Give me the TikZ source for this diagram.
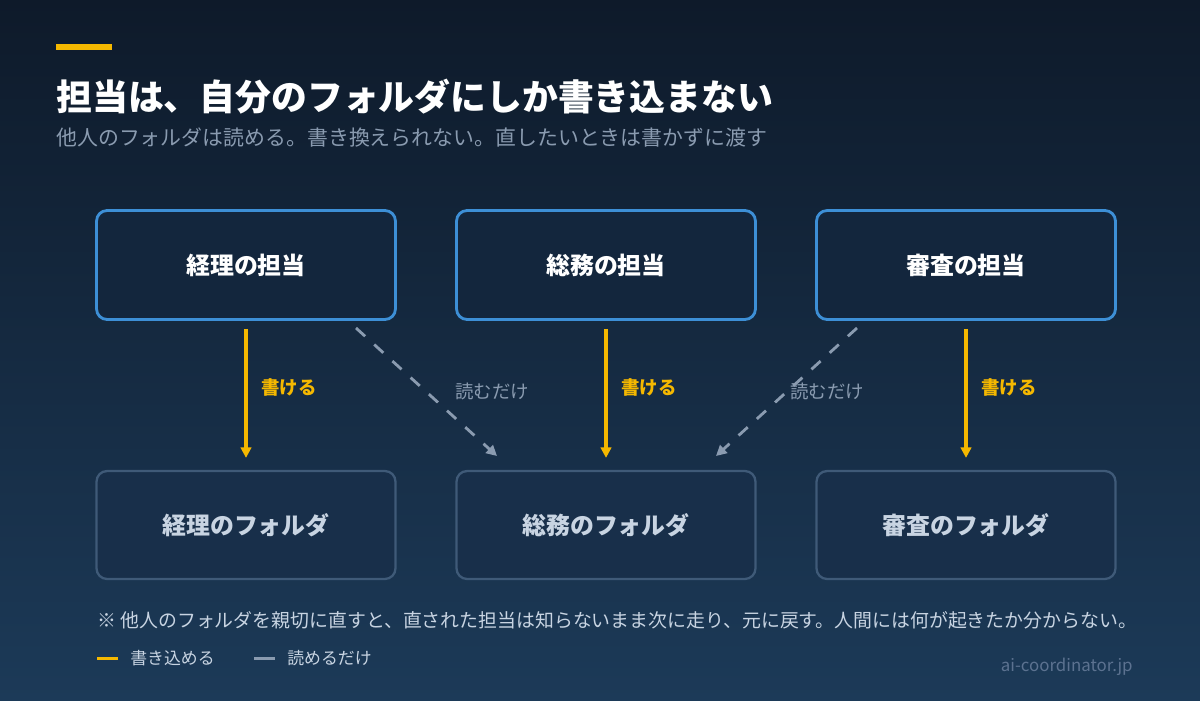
\documentclass[tikz,border=0pt]{standalone}
\usepackage{fontspec}
\setmainfont{Noto Sans CJK JP}
\usetikzlibrary{arrows.meta}
\definecolor{bgtop}{HTML}{0E1A2A}
\definecolor{bgbot}{HTML}{1C3A58}
\definecolor{accent}{HTML}{F5B800}
\definecolor{boxblue}{HTML}{3D8FD6}
\definecolor{boxdim}{HTML}{3F5A78}
\definecolor{boxfill}{HTML}{13263D}
\definecolor{boxfillb}{HTML}{182F4A}
\definecolor{subgray}{HTML}{8A9BB0}
\definecolor{textlite}{HTML}{C8D4E2}
\definecolor{sitegray}{HTML}{5C7290}
\tikzset{
	owner/.style={draw=boxblue, line width=1.6pt, fill=boxfill, rounded corners=6pt,
		minimum width=299\pxu, minimum height=109\pxu, text=white, font=\fontsize{13.6}{16}\selectfont\bfseries},
	folder/.style={draw=boxdim, line width=1.3pt, fill=boxfillb, rounded corners=6pt,
		minimum width=299\pxu, minimum height=108\pxu, text=textlite, font=\fontsize{13.6}{16}\selectfont\bfseries},
	write/.style={draw=accent, line width=2pt, -{Triangle[length=6pt,width=6pt]}},
	read/.style={draw=subgray, line width=1.6pt, dash pattern=on 7pt off 7pt, -{Triangle[length=6pt,width=6pt]}},
	wlabel/.style={text=accent, font=\fontsize{10.5}{12}\selectfont\bfseries, anchor=west},
	rlabel/.style={text=subgray, font=\fontsize{10.5}{12}\selectfont, anchor=west},
}
\def\pxu{mm*0.2}
\begin{document}
\begin{tikzpicture}[x=0.02cm, y=-0.02cm]
	\shade[top color=bgtop, bottom color=bgbot] (0,0) rectangle (1200,700);
	\useasboundingbox (0,0) rectangle (1200,700);
	% heading
	\fill[accent] (56,44) rectangle (112,50);
	\node[anchor=base west, inner sep=0, text=white, font=\fontsize{20.4}{24}\selectfont\bfseries] (title) at (56,110)
		{担当は、自分のフォルダにしか書き込まない};
	\node[anchor=base west, inner sep=0, text=subgray, font=\fontsize{11.9}{14}\selectfont] (subtitle) at (56,145)
		{他人のフォルダは読める。書き換えられない。直したいときは書かずに渡す};
	% owners and folders
	\node[owner] (ownacc) at (246,265) {経理の担当};
	\node[owner] (owngen) at (606,265) {総務の担当};
	\node[owner] (ownaud) at (966,265) {審査の担当};
	\node[folder] (fldacc) at (246,525) {経理のフォルダ};
	\node[folder] (fldgen) at (606,525) {総務のフォルダ};
	\node[folder] (fldaud) at (966,525) {審査のフォルダ};
	% write access
	\foreach \o/\f in {ownacc/fldacc, owngen/fldgen, ownaud/fldaud}{%
		\draw[write] ([yshift=-8\pxu]\o.south) -- ([yshift=12\pxu]\f.north);
		\node[wlabel] at ([xshift=9\pxu, yshift=-67\pxu]\o.south) {書ける};
	}
	% read access
	\coordinate (rda) at (356,328);
	\coordinate (rdb) at (497,456);
	\coordinate (rdc) at (857,328);
	\coordinate (rdd) at (716,456);
	\draw[read] (rda) -- (rdb);
	\draw[read] (rdc) -- (rdd);
	\node[rlabel] (rlaba) at (449,391) {読むだけ};
	\node[rlabel] (rlabb) at (784,391) {読むだけ};
	% note and legend
	\node[anchor=west, inner sep=0, text=textlite, font=\fontsize{10.75}{12}\selectfont] (note) at (97,620)
		{※ 他人のフォルダを親切に直すと、直された担当は知らないまま次に走り、元に戻す。人間には何が起きたか分からない。};
	\draw[accent, line width=1.7pt] (97,658) -- (118,658);
	\node[anchor=west, inner sep=0, text=textlite, font=\fontsize{9.6}{12}\selectfont] (legw) at (130,658) {書き込める};
	\draw[subgray, line width=1.7pt] (254,658) -- (275,658);
	\node[anchor=west, inner sep=0, text=textlite, font=\fontsize{9.6}{12}\selectfont] (legr) at (287,658) {読めるだけ};
	\node[anchor=east, inner sep=0, text=sitegray, font=\fontsize{9.6}{12}\selectfont] (site) at (1133,667) {ai-coordinator.jp};
\end{tikzpicture}
\end{document}
